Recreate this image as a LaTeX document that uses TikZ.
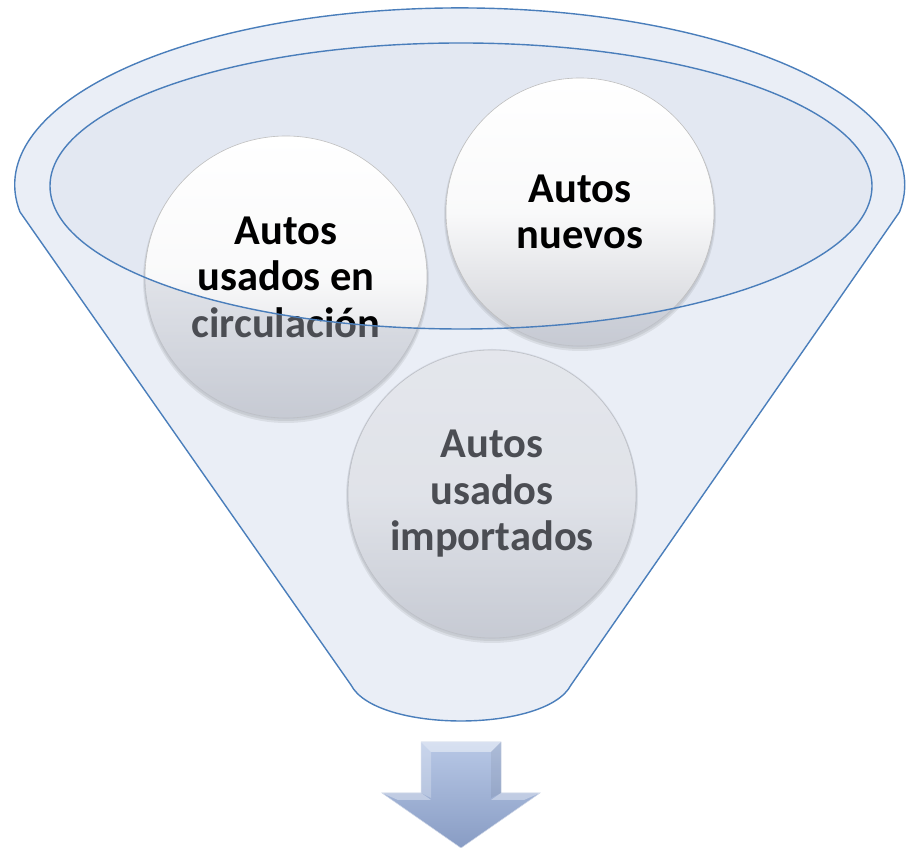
\documentclass[tikz,border=0pt]{standalone}
\usepackage{fontspec}
\setmainfont{Carlito}
\definecolor{funnelout}{RGB}{234,238,246}
\definecolor{funnelin}{RGB}{227,232,242}
\definecolor{funnelline}{RGB}{74,126,187}
\definecolor{dimmer}{RGB}{188,194,208}
\definecolor{ballbot}{RGB}{206,208,214}
\definecolor{arrowtop}{RGB}{184,200,230}
\definecolor{arrowbot}{RGB}{136,156,196}
\tikzset{
  ball/.style={circle, inner sep=0pt, minimum size=#1, top color=white, bottom color=ballbot,
    middle color=white!88!ballbot, draw=gray!50, line width=0.6pt,
    font=\fontsize{42.5}{46.5}\selectfont\bfseries, align=center, text=black},
  ballshadow/.style={fill=black, opacity=0.07},
  outline/.style={draw=funnelline, line width=1.4pt},
}
\begin{document}
\begin{tikzpicture}[x=1pt, y=1pt]
\useasboundingbox (0,0) rectangle (906,848);
% funnel body
\path[fill=funnelout, outline, line join=round]
  (20,636) arc[start angle=188.8, end angle=-8.8, x radius=445, y radius=177]
  -- (571,163) .. controls (546,115) and (376,115) .. (351,163) -- cycle;
\fill[funnelin] (461,662) ellipse[x radius=411, y radius=143];
% ball centres
\coordinate (p1) at (286,571);
\coordinate (p2) at (580,636);
\coordinate (p3) at (492,354);
% shadows
\foreach \p/\r in {p1/141, p2/134, p3/144}{
  \fill[ballshadow] ([yshift=-3pt]\p) circle[radius=\r+2];
  \fill[ballshadow] ([yshift=-2pt]\p) circle[radius=\r+1];
}
% balls
\node[ball=282pt] (b1) at (p1) {Autos\\usados en\\circulación};
\node[ball=268pt] (b2) at (p2) {Autos\\nuevos};
\node[ball=288pt] (b3) at (p3) {Autos\\usados\\importados};
% dim the parts of the balls outside the mouth of the funnel
\foreach \p/\r in {p1/141, p2/134, p3/144}{
  \begin{scope}
    \clip (\p) circle[radius=\r+1];
    \fill[dimmer, opacity=0.4, even odd rule]
      (0,0) rectangle (906,848) (461,662) ellipse[x radius=411, y radius=143];
  \end{scope}
}
% mouth rim
\draw[outline] (461,662) ellipse[x radius=411, y radius=143];
% arrow
\shade[top color=arrowtop, bottom color=arrowbot, draw=white!60!arrowbot, line width=0.5pt]
  (421,106) -- (501,106) -- (501,55) -- (540,55) -- (461,0) -- (382,55) -- (421,55) -- cycle;
\fill[white, opacity=0.45] (421,106) -- (501,106) -- (491,96) -- (431,96) -- cycle;
\fill[white, opacity=0.25] (421,106) -- (431,96) -- (431,50) -- (421,55) -- cycle;
\fill[white, opacity=0.35] (382,55) -- (421,55) -- (431,48) -- (398,48) -- cycle;
\fill[white, opacity=0.35] (501,55) -- (540,55) -- (524,48) -- (491,48) -- cycle;
\fill[black, opacity=0.06] (501,106) -- (491,96) -- (491,50) -- (501,55) -- cycle;
\end{tikzpicture}
\end{document}
